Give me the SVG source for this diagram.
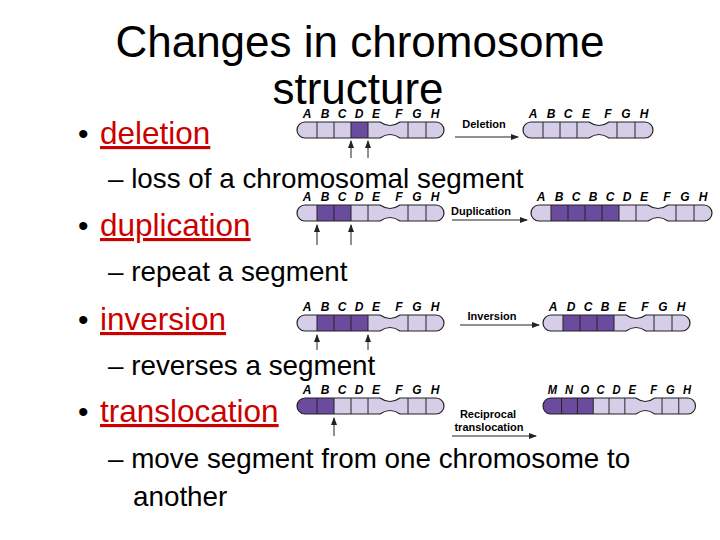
<svg xmlns="http://www.w3.org/2000/svg" width="720" height="540" viewBox="0 0 720 540">
<style>
.t{font-family:"Liberation Sans",Arial,sans-serif;fill:#000}
.h{font-size:44px;text-anchor:middle}
.b{font-size:30px}
.bl{font-size:31.5px;fill:#cc0000;text-decoration:underline}
.s{font-size:27.8px}
.lt{font-family:"Liberation Sans",Arial,sans-serif;font-size:12px;font-weight:bold;font-style:italic;text-anchor:middle}
.lab{font-family:"Liberation Sans",Arial,sans-serif;font-size:11px;font-weight:bold;text-anchor:middle}
.o{fill:none;stroke:#222;stroke-width:1.2}
.lf{fill:#d6cde8}
.dk{fill:#6a4b9e}
.ln{stroke:#222;stroke-width:1}
.ar{stroke:#222;stroke-width:1;fill:none;marker-end:url(#ah)}
</style>
<defs>
<marker id="ah" markerWidth="8" markerHeight="6" refX="7" refY="3" orient="auto" markerUnits="userSpaceOnUse"><path d="M0,0 L8,3 L0,6Z" fill="#222"/></marker>
<clipPath id="c8"><path d="M8,0 H83 Q93,7 103,0 H139 A8 8 0 0 1 139,16 H103 Q93,9 83,16 H8 A8 8 0 0 1 8,0Z"/></clipPath>
<clipPath id="c7"><path d="M8,0 H66 Q76,7 86,0 H122 A8 8 0 0 1 122,16 H86 Q76,9 66,16 H8 A8 8 0 0 1 8,0Z"/></clipPath>
<clipPath id="c10"><path d="M8,0 H117 Q127,7 137,0 H173 A8 8 0 0 1 173,16 H137 Q127,9 117,16 H8 A8 8 0 0 1 8,0Z"/></clipPath>
<clipPath id="c9"><path d="M8,0 H100 Q110,7 120,0 H156 A8 8 0 0 1 156,16 H120 Q110,9 100,16 H8 A8 8 0 0 1 8,0Z"/></clipPath>
</defs>

<text class="t h" x="360" y="57">Changes in chromosome</text>
<text class="t h" x="358" y="104">structure</text>

<g id="bullets">
<text class="t b" x="78" y="144">•</text><text class="t bl" x="100" y="144">deletion</text>
<text class="t s" x="108" y="188">– loss of a chromosomal segment</text>
<text class="t b" x="78" y="236">•</text><text class="t bl" x="100" y="236">duplication</text>
<text class="t s" x="108" y="281">– repeat a segment</text>
<text class="t b" x="78" y="330">•</text><text class="t bl" x="100" y="330">inversion</text>
<text class="t s" x="108" y="375">– reverses a segment</text>
<text class="t b" x="78" y="422">•</text><text class="t bl" x="100" y="422">translocation</text>
<text class="t s" x="108" y="468">– move segment from one chromosome to</text>
<text class="t s" x="133" y="506">another</text>
</g>

<!-- Deletion -->
<g id="del-left" transform="translate(297,122)">
<g clip-path="url(#c8)"><rect class="lf" x="0" y="0" width="147" height="16"/><rect class="dk" x="54" y="0" width="17" height="16"/>
<path class="ln" d="M20,0V16M37,0V16M54,0V16M71,0V16M111,0V16M129,0V16"/></g>
<path class="o" d="M8,0 H83 Q93,7 103,0 H139 A8 8 0 0 1 139,16 H103 Q93,9 83,16 H8 A8 8 0 0 1 8,0Z"/>
<g class="lt"><text x="10" y="-4">A</text><text x="28" y="-4">B</text><text x="45" y="-4">C</text><text x="62" y="-4">D</text><text x="79" y="-4">E</text><text x="102" y="-4">F</text><text x="120" y="-4">G</text><text x="138" y="-4">H</text></g>
</g>
<g id="del-right" transform="translate(523,122)">
<g clip-path="url(#c7)"><rect class="lf" x="0" y="0" width="130" height="16"/>
<path class="ln" d="M20,0V16M37,0V16M54,0V16M94,0V16M112,0V16"/></g>
<path class="o" d="M8,0 H66 Q76,7 86,0 H122 A8 8 0 0 1 122,16 H86 Q76,9 66,16 H8 A8 8 0 0 1 8,0Z"/>
<g class="lt"><text x="10" y="-4">A</text><text x="28" y="-4">B</text><text x="45" y="-4">C</text><text x="63" y="-4">E</text><text x="85" y="-4">F</text><text x="103" y="-4">G</text><text x="121" y="-4">H</text></g>
</g>

<!-- Duplication -->
<g id="dup-left" transform="translate(297,205)">
<g clip-path="url(#c8)"><rect class="lf" x="0" y="0" width="147" height="16"/><rect class="dk" x="20" y="0" width="34" height="16"/>
<path class="ln" d="M20,0V16M37,0V16M54,0V16M71,0V16M111,0V16M129,0V16"/></g>
<path class="o" d="M8,0 H83 Q93,7 103,0 H139 A8 8 0 0 1 139,16 H103 Q93,9 83,16 H8 A8 8 0 0 1 8,0Z"/>
<g class="lt"><text x="10" y="-4">A</text><text x="28" y="-4">B</text><text x="45" y="-4">C</text><text x="62" y="-4">D</text><text x="79" y="-4">E</text><text x="102" y="-4">F</text><text x="120" y="-4">G</text><text x="138" y="-4">H</text></g>
</g>
<g id="dup-right" transform="translate(531,205)">
<g clip-path="url(#c10)"><rect class="lf" x="0" y="0" width="181" height="16"/><rect class="dk" x="20" y="0" width="68" height="16"/>
<path class="ln" d="M20,0V16M37,0V16M54,0V16M71,0V16M88,0V16M105,0V16M145,0V16M163,0V16"/></g>
<path class="o" d="M8,0 H117 Q127,7 137,0 H173 A8 8 0 0 1 173,16 H137 Q127,9 117,16 H8 A8 8 0 0 1 8,0Z"/>
<g class="lt"><text x="10" y="-4">A</text><text x="28" y="-4">B</text><text x="45" y="-4">C</text><text x="62" y="-4">B</text><text x="79" y="-4">C</text><text x="96" y="-4">D</text><text x="113" y="-4">E</text><text x="136" y="-4">F</text><text x="154" y="-4">G</text><text x="172" y="-4">H</text></g>
</g>

<!-- Inversion -->
<g id="inv-left" transform="translate(297,315)">
<g clip-path="url(#c8)"><rect class="lf" x="0" y="0" width="147" height="16"/><rect class="dk" x="20" y="0" width="51" height="16"/>
<path class="ln" d="M20,0V16M37,0V16M54,0V16M71,0V16M111,0V16M129,0V16"/></g>
<path class="o" d="M8,0 H83 Q93,7 103,0 H139 A8 8 0 0 1 139,16 H103 Q93,9 83,16 H8 A8 8 0 0 1 8,0Z"/>
<g class="lt"><text x="10" y="-4">A</text><text x="28" y="-4">B</text><text x="45" y="-4">C</text><text x="62" y="-4">D</text><text x="79" y="-4">E</text><text x="102" y="-4">F</text><text x="120" y="-4">G</text><text x="138" y="-4">H</text></g>
</g>
<g id="inv-right" transform="translate(543,315)">
<g clip-path="url(#c8)"><rect class="lf" x="0" y="0" width="147" height="16"/><rect class="dk" x="20" y="0" width="51" height="16"/>
<path class="ln" d="M20,0V16M37,0V16M54,0V16M71,0V16M111,0V16M129,0V16"/></g>
<path class="o" d="M8,0 H83 Q93,7 103,0 H139 A8 8 0 0 1 139,16 H103 Q93,9 83,16 H8 A8 8 0 0 1 8,0Z"/>
<g class="lt"><text x="10" y="-4">A</text><text x="28" y="-4">D</text><text x="45" y="-4">C</text><text x="62" y="-4">B</text><text x="79" y="-4">E</text><text x="102" y="-4">F</text><text x="120" y="-4">G</text><text x="138" y="-4">H</text></g>
</g>

<!-- Translocation -->
<g id="tr-left" transform="translate(297,398)">
<g clip-path="url(#c8)"><rect class="lf" x="0" y="0" width="147" height="16"/><rect class="dk" x="0" y="0" width="37" height="16"/>
<path class="ln" d="M20,0V16M37,0V16M54,0V16M71,0V16M111,0V16M129,0V16"/></g>
<path class="o" d="M8,0 H83 Q93,7 103,0 H139 A8 8 0 0 1 139,16 H103 Q93,9 83,16 H8 A8 8 0 0 1 8,0Z"/>
<g class="lt"><text x="10" y="-4">A</text><text x="28" y="-4">B</text><text x="45" y="-4">C</text><text x="62" y="-4">D</text><text x="79" y="-4">E</text><text x="102" y="-4">F</text><text x="120" y="-4">G</text><text x="138" y="-4">H</text></g>
</g>
<g id="tr-right" transform="translate(543,398) scale(0.93,1)">
<g clip-path="url(#c9)"><rect class="lf" x="0" y="0" width="164" height="16"/><rect class="dk" x="0" y="0" width="54" height="16"/>
<path class="ln" d="M20,0V16M37,0V16M54,0V16M71,0V16M88,0V16M128,0V16M146,0V16"/></g>
<path class="o" d="M8,0 H100 Q110,7 120,0 H156 A8 8 0 0 1 156,16 H120 Q110,9 100,16 H8 A8 8 0 0 1 8,0Z"/>
<g class="lt"><text x="10" y="-4">M</text><text x="28" y="-4">N</text><text x="45" y="-4">O</text><text x="62" y="-4">C</text><text x="79" y="-4">D</text><text x="96" y="-4">E</text><text x="119" y="-4">F</text><text x="137" y="-4">G</text><text x="155" y="-4">H</text></g>
</g>

<g id="connectors">
<path class="ar" d="M351,158V141"/><path class="ar" d="M368,158V141"/>
<path class="ar" d="M455,137H518"/>
<path class="ar" d="M317,245V225"/><path class="ar" d="M351,245V225"/>
<path class="ar" d="M452,220H527"/>
<path class="ar" d="M317,350V335"/><path class="ar" d="M368,350V335"/>
<path class="ar" d="M460,325H539"/>
<path class="ar" d="M334,436V418"/>
<path class="ar" d="M452,436H536"/>
</g>
<g id="labels">
<text class="lab" x="484" y="128">Deletion</text>
<text class="lab" x="481" y="215">Duplication</text>
<text class="lab" x="492" y="320">Inversion</text>
<text class="lab" x="488" y="418">Reciprocal</text>
<text class="lab" x="489" y="431">translocation</text>
</g>
</svg>
